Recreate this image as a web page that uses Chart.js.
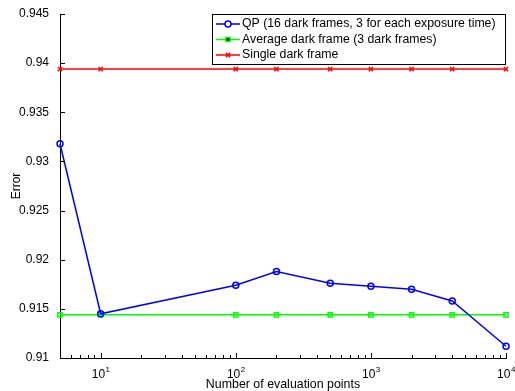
<!DOCTYPE html>
<html>
<head>
<meta charset="utf-8">
<script src="https://cdn.jsdelivr.net/npm/chart.js@4.4.0/dist/chart.umd.min.js"></script>
<style>
  html, body { margin: 0; padding: 0; background: #fff; }
  #wrap { width: 515px; height: 391px; }
</style>
</head>
<body>
<div id="wrap"><canvas id="mycanvas"></canvas></div>
<script>
// evaluation points (x) and the three error curves
var evalPoints = [5, 10, 100, 200, 500, 1000, 2000, 4000, 10000];
var qpError = [0.9318, 0.9145, 0.9174, 0.9188, 0.9176, 0.9173, 0.9170, 0.9158, 0.9112];
var avgDarkError = [0.9144, 0.9144, 0.9144, 0.9144, 0.9144, 0.9144, 0.9144, 0.9144, 0.9144];
var singleDarkError = [0.9394, 0.9394, 0.9394, 0.9394, 0.9394, 0.9394, 0.9394, 0.9394, 0.9394];
var seriesLabels = [
	'QP (16 dark frames, 3 for each exposure time)',
	'Average dark frame (3 dark frames)',
	'Single dark frame'
];
var xTickPowers = [1, 2, 3, 4];
var xTitle = 'Number of evaluation points';

var FONT = '"Liberation Sans", Arial, sans-serif';

function pts(ys) {
	var out = [];
	for (var i in evalPoints) {
		out.push({x: evalPoints[i], y: ys[i]});
	}
	return out;
}

// inward tick marks, 10^k labels, x title and the in-plot legend
var matlabLook = {
	id: 'matlabLook',
	afterDraw: function(chart) {
		var ctx = chart.ctx;
		var xs = chart.scales.x, ys = chart.scales.y;
		var area = chart.chartArea;
		ctx.save();
		ctx.strokeStyle = '#000';
		ctx.lineWidth = 1;
		ctx.beginPath();
		// y ticks
		ys.ticks.forEach(function(t) {
			var py = Math.round(ys.getPixelForValue(t.value)) + 0.5;
			ctx.moveTo(area.left, py);
			ctx.lineTo(area.left + 5, py);
		});
		// x ticks, major and minor
		for (var p = 0; p <= 4; p++) {
			for (var m = 1; m <= 9; m++) {
				var v = m * Math.pow(10, p);
				if (v < xs.min || v > xs.max) continue;
				var px = Math.round(xs.getPixelForValue(v)) + 0.5;
				var len = (m === 1) ? 5 : 3;
				ctx.moveTo(px, area.bottom);
				ctx.lineTo(px, area.bottom - len);
			}
		}
		ctx.stroke();

		// 10^k labels
		ctx.fillStyle = '#000';
		ctx.textBaseline = 'alphabetic';
		xTickPowers.forEach(function(k) {
			var px = xs.getPixelForValue(Math.pow(10, k));
			ctx.font = '12px ' + FONT;
			var w1 = ctx.measureText('10').width;
			ctx.font = '8px ' + FONT;
			var w2 = ctx.measureText(String(k)).width;
			var x0 = px - (w1 + w2) / 2;
			ctx.font = '12px ' + FONT;
			ctx.textAlign = 'left';
			ctx.fillText('10', x0, area.bottom + 20);
			ctx.font = '8px ' + FONT;
			ctx.fillText(String(k), x0 + w1 + 0.5, area.bottom + 14);
		});

		// x axis title
		ctx.font = '12.4px ' + FONT;
		ctx.textAlign = 'center';
		ctx.textBaseline = 'middle';
		ctx.fillText(xTitle, (area.left + area.right) / 2, 385);

		// legend box
		var lx = 212, ly = 14, lw = 294, lh = 51;
		ctx.fillStyle = '#fff';
		ctx.fillRect(lx, ly, lw, lh);
		ctx.strokeStyle = '#000';
		ctx.strokeRect(lx + 0.5, ly + 0.5, lw - 1, lh - 1);
		var rows = [24, 39.5, 55];
		chart.data.datasets.forEach(function(ds, i) {
			var ry = rows[i];
			ctx.strokeStyle = ds.borderColor;
			ctx.lineWidth = 1.5;
			ctx.beginPath();
			ctx.moveTo(216, ry);
			ctx.lineTo(240, ry);
			ctx.stroke();
			Chart.helpers.drawPoint(ctx, {
				pointStyle: ds.pointStyle,
				radius: ds.pointRadius,
				borderWidth: 1.5
			}, 228, ry);
			ctx.fillStyle = '#000';
			ctx.font = '12.3px ' + FONT;
			ctx.textAlign = 'left';
			ctx.textBaseline = 'middle';
			ctx.fillText(ds.label, 242, ry);
		});
		ctx.restore();
	}
};

var chartdata = {
	datasets: [
		{
			label: seriesLabels[0],
			data: pts(qpError),
			borderColor: '#0000ff',
			backgroundColor: 'rgba(0,0,0,0)',
			pointStyle: 'circle',
			pointRadius: 3,
			borderWidth: 1.5,
			pointBorderWidth: 1.5,
			order: 1
		},
		{
			label: seriesLabels[1],
			data: pts(avgDarkError),
			borderColor: '#00ff00',
			backgroundColor: 'rgba(0,0,0,0)',
			pointStyle: 'rect',
			pointRadius: 3,
			borderWidth: 1.5,
			pointBorderWidth: 1.5,
			order: 2
		},
		{
			label: seriesLabels[2],
			data: pts(singleDarkError),
			borderColor: '#ff0000',
			backgroundColor: 'rgba(0,0,0,0)',
			pointStyle: 'crossRot',
			pointRadius: 3,
			borderWidth: 1.5,
			pointBorderWidth: 1.5,
			order: 3
		}
	]
};

var ctx = document.getElementById('mycanvas');
var lineGraph = new Chart(ctx, {
	type: 'line',
	data: chartdata,
	plugins: [matlabLook],
	options: {
		responsive: true,
		maintainAspectRatio: false,
		animation: false,
		clip: false,
		layout: { padding: { top: 14, right: 9, left: 0, bottom: 0 } },
		plugins: {
			legend: { display: false },
			tooltip: { enabled: false }
		},
		scales: {
			x: {
				type: 'logarithmic',
				min: 5,
				max: 10000,
				grid: { display: false },
				border: { display: true, color: '#000', width: 1 },
				ticks: { display: false },
				afterFit: function(scale) { scale.height = 33; }
			},
			y: {
				min: 0.91,
				max: 0.945,
				grid: { display: false },
				border: { display: true, color: '#000', width: 1 },
				ticks: {
					stepSize: 0.005,
					color: '#000',
					padding: 3,
					font: { family: FONT, size: 12 },
					callback: function(v) { return String(Number(v.toFixed(3))); }
				},
				afterFit: function(scale) { scale.width = 60; },
				title: {
					display: true,
					text: 'Error',
					color: '#000',
					font: { family: FONT, size: 12 },
					padding: { top: 9, bottom: 0 }
				}
			}
		}
	}
});
</script>
</body>
</html>
